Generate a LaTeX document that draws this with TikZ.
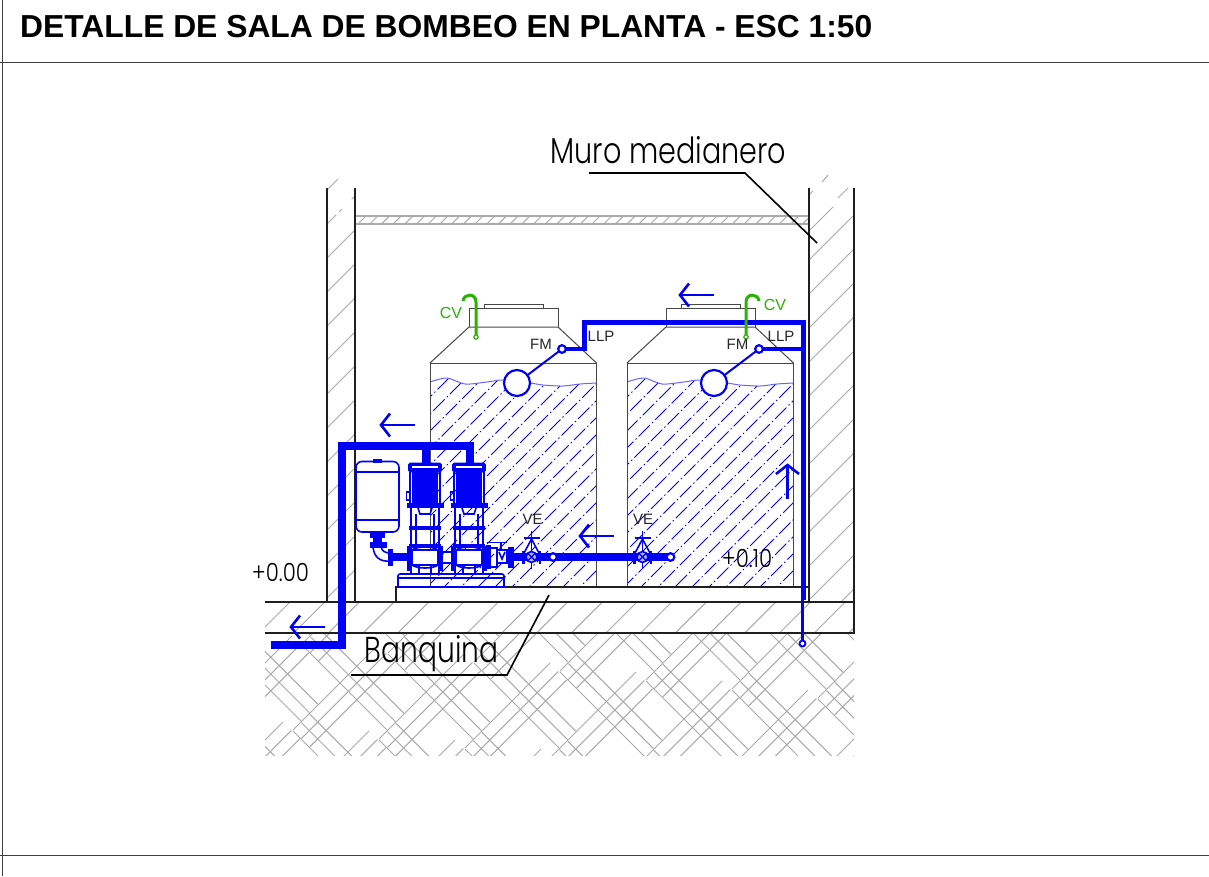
\documentclass[tikz,border=0pt]{standalone}
\usepackage{fontspec}
\usepackage{graphicx}
\setmainfont{Liberation Sans}
\newfontfamily\cadfont[UprightFont=* Light]{Poppins}
\definecolor{pipeblue}{RGB}{0,0,245}
\definecolor{cvgreen}{RGB}{40,180,0}
\definecolor{hatchgrey}{RGB}{170,170,170}
\tikzset{
  wallline/.style={draw=black!88,line width=2pt},
  thinhatch/.style={draw=hatchgrey,line width=1pt},
  tankline/.style={draw=black!72,line width=1pt},
  tankhatch/.style={draw=pipeblue,line width=1pt,dash pattern=on 16pt off 3pt on 1.4pt off 3pt},
  bp/.style={draw=pipeblue,line width=1.6pt},
  bpfill/.style={draw=pipeblue,fill=pipeblue,line width=.6pt},
  bigpipe/.style={draw=pipeblue,line width=8pt},
  medpipe/.style={draw=pipeblue,line width=5pt},
  smallpipe/.style={draw=pipeblue,line width=3.5pt},
  flowarrow/.style={draw=pipeblue,line width=2.6pt},
  cvpipe/.style={draw=cvgreen,line width=3pt},
  smalltext/.style={font=\fontsize{15}{16}\selectfont,text=black!85,inner sep=0pt},
  cvtext/.style={font=\fontsize{16}{17}\selectfont,text=cvgreen,inner sep=0pt},
  cadtext/.style={font=\cadfont,inner sep=0pt,text=black},
  ring/.style={draw=pipeblue,fill=white,line width=2.2pt},
}
\newcommand{\tankunit}[1]{%
  \begin{scope}[shift={(#1,0)}]
    \begin{scope}
      \clip plot[smooth] coordinates {(0,382)(17,378)(35,384)(57,382)(73,380)(100,383)(113,385)(133,386)(150,384)(166.5,383)} -- (166.5,587) -- (0,587) -- cycle;
      \foreach \k in {0,...,24}
        \draw[tankhatch,dash phase=\k*6.5 pt] ({-220+\k*17},600) -- ({130+\k*17},250);
    \end{scope}
    \draw[draw=pipeblue!60,line width=1pt] plot[smooth] coordinates {(0,382)(17,378)(35,384)(57,382)(73,380)(100,383)(113,385)(133,386)(150,384)(166.5,383)};
    \draw[tankline] (0,587) -- (0,363) -- (166.5,363) -- (166.5,587);
    \draw[tankline] (0,363) -- (39,327) -- (128,327) -- (166.5,363);
    \draw[tankline] (39,327) -- (39,308) -- (128,308) -- (128,327);
    \draw[tankline] (54,308) -- (54,304) -- (113,304) -- (113,308);
    \draw[pipeblue,line width=2pt] (87,383) -- (132,349);
    \draw[ring] (87,383) circle (13);
    \draw[ring] (132,349) circle (3.8);
  \end{scope}}
\newcommand{\pumpunit}[1]{%
  \begin{scope}[shift={(#1,0)}]
    \draw[bpfill,rounded corners=1.5pt] (-16.5,463) rectangle (16.5,472);
    \fill[white] (-13,466) rectangle (13,467.5);
    \draw[bpfill] (-12.5,471) rectangle (12.5,505);
    \draw[bp] (-15,472) -- (-15,505) (15,472) -- (15,505);
    \draw[bp] (-18.5,492) rectangle (-15.5,500);
    \draw[bpfill] (-18,503) rectangle (18,507.5);
    \draw[bp] (-7,508) -- (-5,514) -- (5,514) -- (7,508);
    \draw[bp] (-14,508) -- (-14,575) (14,508) -- (14,575);
    \draw[bp] (-9,514) -- (-9,550) (9,514) -- (9,550);
    \draw[bpfill] (-15.5,526) rectangle (15.5,529.5);
    \draw[bpfill] (-15.5,544) rectangle (15.5,547.5);
    \draw[bp,fill=white] (-13,550) rectangle (13,565);
    \draw[bpfill] (-17.5,546) rectangle (-14.5,570);
    \draw[bpfill] (14.5,546) rectangle (17.5,570);
    \draw[bp] (-13,550) .. controls (-8,546) and (8,546) .. (13,550);
    \draw[bp] (-13,565) .. controls (-8,569) and (8,569) .. (13,565);
    \draw[bp] (-6,565) -- (-6,574) (6,565) -- (6,574);
  \end{scope}}
\newcommand{\gatevalve}[1]{%
  \begin{scope}[shift={(#1,557)}]
    \draw[bp] (-8,-3) -- (0,-18) -- (8,-3);
    \draw[bp] (-8,-19) -- (8,-19);
    \draw[bp] (0,-26) -- (0,12);
    \draw[bpfill] (-9,-6) rectangle (-7.5,6);
    \draw[bpfill] (7.5,-6) rectangle (9,6);
    \draw[bp,fill=pipeblue!30] (0,0) circle (5.5);
    \draw[bp,line width=1.2pt] (-4,-4) -- (4,4) (-4,4) -- (4,-4);
  \end{scope}}
\newcommand{\flowleft}[2]{%
  \draw[flowarrow] ({#1+34},#2) -- (#1,#2);
  \draw[flowarrow] ({#1+9},{#2-11.5}) -- (#1,#2) -- ({#1+9},{#2+11.5});}
\begin{document}
\begin{tikzpicture}[x=1pt,y=-1pt]
  \useasboundingbox (0,0) rectangle (1209,876);
  \fill[white] (0,0) rectangle (1209,876);
  % frame
  \draw[draw=black!75,line width=1pt] (2,0) -- (2,876) (0,62.5) -- (1209,62.5) (0,855) -- (1209,855);
  \node[anchor=west,inner sep=0pt,font=\fontsize{31.8}{34}\selectfont\bfseries] (title) at (20,27) {DETALLE DE SALA DE BOMBEO EN PLANTA - ESC 1:50};
  % earth
  \begin{scope}
    \clip (265,633) rectangle (854,755);
    \foreach \i in {-6,...,6} \foreach \j in {-2,...,3} {
      \begin{scope}[shift={({\i*86-\j*9},{\i*9+\j*86})}]
        \foreach \d in {0,12,24}
          \draw[thinhatch] ({550+\d*.7},{663+\d*.7}) -- ({465+\d*.7},{748+\d*.7});
        \foreach \d in {0,12,24}
          \draw[thinhatch] ({560+\d*.7},{672-\d*.7}) -- ({645+\d*.7},{757-\d*.7});
      \end{scope}}
  \end{scope}
  % wall and slab hatching
  \begin{scope}
    \clip (327,170) rectangle (355,602);
    \foreach \k in {0,...,10} \draw[thinhatch] (327,{258+\k*34}) -- ++(28,-28);
    \draw[thinhatch,dash pattern=on 13pt off 4pt on 4pt off 14pt] (327,224) -- ++(34,-34);
    \draw[thinhatch] (327,190) -- (338,179);
  \end{scope}
  \begin{scope}
    \clip (809,170) rectangle (854,602);
    \foreach \k in {-1,...,10} \draw[thinhatch] (809,{294+\k*34}) -- ++(45,-45);
    \draw[thinhatch] (809,231) -- (833,207) (838,198) -- (848,188) (809,195) -- (813,191) (822,182) -- (828,175);
  \end{scope}
  \begin{scope}
    \clip (265,602) rectangle (854,633);
    \foreach \k in {0,...,17} \draw[thinhatch] ({290+\k*34.7},602) -- ++(-31,31);
  \end{scope}
  % ceiling band
  \begin{scope}
    \clip (355,216) rectangle (809,224);
    \foreach \k in {0,...,39} \draw[thinhatch] ({358+\k*11.7},224) -- ++(8,-8);
  \end{scope}
  \draw[draw=hatchgrey,line width=1.3pt] (355,216) -- (809,216) (355,224) -- (809,224);
  % tanks
  \tankunit{430}
  \tankunit{627}
  % walls and ground
  \draw[wallline] (327,188) -- (327,602) (355,188) -- (355,602);
  \draw[wallline] (809,188) -- (809,602) (854,188) -- (854,633) -- (265,633);
  \draw[wallline] (265,602) -- (854,602);
  \draw[wallline] (396,602) -- (396,587) -- (808,587);
  % expansion tank
  \draw[bp,fill=white,rounded corners=6pt] (356,461.5) rectangle (399,532);
  \draw[bp] (356,472) -- (399,472) (356,520) -- (399,520);
  \draw[bpfill] (373.5,459.5) rectangle (381,462);
  \draw[bpfill] (370,532) rectangle (384,537);
  \draw[bpfill] (373,537) rectangle (381,542);
  \draw[bpfill] (370,542) rectangle (386,547);
  \draw[bp] (373,547) .. controls (374,557) and (380,562) .. (390,561);
  \draw[bp] (381,547) .. controls (382,551) and (385,553) .. (390,553);
  \draw[bpfill] (388,549) rectangle (392,565);
  % suction and discharge line of the pumps
  \draw[draw=pipeblue,line width=8pt] (392,557) -- (408,557);
  \draw[draw=pipeblue,line width=8pt] (510,557) -- (670,557);
  % base
  \draw[bp,rounded corners=2pt] (398,587) -- (398,574) -- (504,574) -- (504,587);
  \draw[bp] (398,578) -- (504,578) (398,587) -- (504,587);
  \pumpunit{425}
  \pumpunit{469}
  \draw[bp] (442,552) -- (451,552) (442,563) -- (451,563);
  % check valve group
  \draw[bpfill] (486,545) rectangle (490,568);
  \draw[bp] (490,548) rectangle (497,567);
  \draw[bp,fill=white] (497,550) rectangle (507,563);
  \draw[bp] (499,552) -- (502,559) -- (505,552);
  \draw[bp] (487,542.5) -- (507,542.5) (501,542.5) -- (501,550);
  \draw[bpfill] (508,547) rectangle (513,567);
  % valves and rings
  \gatevalve{531.5}
  \gatevalve{642.5}
  \draw[ring] (553,557) circle (3.8);
  \draw[ring] (670.5,557) circle (3.8);
  % main blue pipes
  \draw[bigpipe,line cap=butt,line join=miter] (271,645) -- (342,645) -- (342,446) -- (469.5,446) -- (469.5,463);
  \draw[bigpipe] (426,446) -- (426,463);
  \draw[smallpipe] (566,349) -- (584,349);
  \draw[medpipe,line join=miter] (584,351) -- (584,322) -- (803.5,322) -- (803.5,600);
  \draw[smallpipe] (762,349) -- (803.5,349);
  \draw[smallpipe] (802.5,600) -- (802.5,641);
  \draw[ring,line width=1.8pt] (802.5,643.5) circle (3);
  % vents
  \draw[cvpipe] (476,337) -- (476,302) .. controls (476,293) and (464,293) .. (463,301);
  \draw[cvgreen,fill=white,line width=1.2pt] (476,337) circle (2.2);
  \draw[cvpipe] (746,337) -- (746,302) .. controls (746,293) and (758,293) .. (759,301);
  \draw[cvgreen,fill=white,line width=1.2pt] (746,337) circle (2.2);
  % flow arrows
  \flowleft{381}{425}
  \flowleft{680}{295}
  \flowleft{580}{536}
  \flowleft{291}{627}
  \draw[flowarrow] (787.5,499) -- (787.5,466);
  \draw[flowarrow] (776,474) -- (787.5,465) -- (799,474);
  % labels
  \node[cvtext] (cv1) at (451,313) {CV};
  \node[cvtext] (cv2) at (775,305) {CV};
  \node[smalltext] (fm1) at (541,344) {FM};
  \node[smalltext] (fm2) at (737.5,344) {FM};
  \node[smalltext] (llp1) at (601,336) {LLP};
  \node[smalltext] (llp2) at (781,336) {LLP};
  \node[smalltext] (ve1) at (532.5,519) {VE};
  \node[smalltext] (ve2) at (643,519) {VE};
  \node[cadtext] (muro) at (668.5,150) {\fontsize{36}{38}\selectfont\scalebox{.795}[1]{Muro medianero}};
  \node[cadtext] (banq) at (431.5,654) {\fontsize{36}{38}\selectfont\scalebox{.78}[1]{Banquina}};
  \node[cadtext] (lev0) at (280.5,572) {\fontsize{25}{27}\selectfont\scalebox{.85}[1]{+0.00}};
  \node[cadtext] (lev1) at (747,558) {\fontsize{25}{27}\selectfont\scalebox{.85}[1]{+0.10}};
  % leaders
  \coordinate (muroA) at (589,173);
  \coordinate (muroB) at (745,173);
  \coordinate (muroC) at (817,243);
  \coordinate (banA) at (351,675);
  \coordinate (banB) at (507,675);
  \coordinate (banC) at (549,595);
  \draw[draw=black,line width=1.6pt] (muroA) -- (muroB) -- (muroC);
  \draw[draw=black,line width=1.6pt] (banA) -- (banB) -- (banC);
\end{tikzpicture}
\end{document}
